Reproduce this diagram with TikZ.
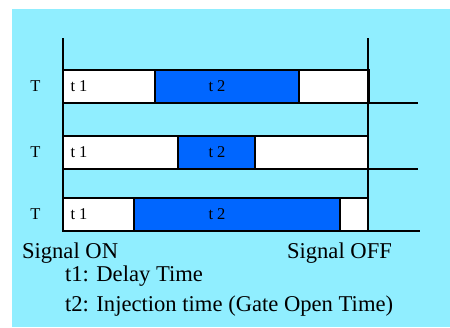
\documentclass[tikz,border=0pt]{standalone}
\usepackage{fontspec}
\setmainfont{Liberation Serif}
\usetikzlibrary{positioning}
\definecolor{bgcyan}{RGB}{144,238,255}
\definecolor{gateblue}{RGB}{0,102,255}

\begin{document}
\begin{tikzpicture}[x=1pt,y=-1pt,
    seg/.style={draw, line width=2pt, inner sep=0pt, outer sep=0pt, minimum height=33pt},
    gate/.style={seg, fill=gateblue},
    idle/.style={seg, fill=white},
    timeline/.style={line width=2.5pt},
    small/.style={font=\fontsize{16.5}{16.5}\selectfont},
    big/.style={font=\fontsize{22.6}{25}\selectfont}]
    \useasboundingbox (0,0) rectangle (450,327);

    % Background
    \fill[bgcyan] (12,9) rectangle (450,327);

    % Row 1
    \node[idle, anchor=north west, minimum width=92pt] (t1a) at (63,70) {};
    \node[gate, right=0pt of t1a, minimum width=144pt] (t2a) {};
    \node[idle, right=0pt of t2a, minimum width=70pt] (resta) {};

    % Row 2
    \node[idle, anchor=north west, minimum width=115pt] (t1b) at (63,136) {};
    \node[gate, right=0pt of t1b, minimum width=77pt] (t2b) {};
    \node[idle, right=0pt of t2b, minimum width=113pt] (restb) {};

    % Row 3
    \node[idle, anchor=north west, minimum width=71pt] (t1c) at (63,198) {};
    \node[gate, right=0pt of t1c, minimum width=206pt] (t2c) {};
    \node[idle, right=0pt of t2c, minimum width=28pt] (restc) {};

    % Timelines
    \coordinate (enda) at (418,103);
    \coordinate (endb) at (418,169);
    \coordinate (endc) at (420,231);
    \draw[timeline] (t1a.south west) -- (enda);
    \draw[timeline] (t1b.south west) -- (endb);
    \draw[timeline] (t1c.south west) -- (endc);

    % Signal edges
    \coordinate (ontop) at (63,38);
    \coordinate (offtop) at (368,38);
    \draw[timeline] (ontop) -- (t1c.south west);
    \draw[timeline] (offtop) -- (restc.south east);

    % Segment labels
    \coordinate (tcol) at (217,0);
    \node[small, right=4pt of t1a.west] (la1) {t 1};
    \node[small, right=4pt of t1b.west] (lb1) {t 1};
    \node[small, right=4pt of t1c.west] (lc1) {t 1};
    \node[small] (la2) at (tcol |- t1a) {t 2};
    \node[small] (lb2) at (tcol |- t1b) {t 2};
    \node[small] (lc2) at (tcol |- t1c) {t 2};

    % Row labels
    \node[small, left=19pt of t1a.west] (ta) {T};
    \node[small, left=19pt of t1b.west] (tb) {T};
    \node[small, left=19pt of t1c.west] (tc) {T};

    % Legend
    \node[big, anchor=west] (on) at (18.5,253) {Signal ON};
    \node[big, anchor=west] (off) at (283.5,253) {Signal OFF};
    \node[big, anchor=west] (d1) at (61.5,276) {t1: Delay Time};
    \node[big, anchor=west] (d2) at (61.5,306) {t2: Injection time (Gate Open Time)};
\end{tikzpicture}
\end{document}
